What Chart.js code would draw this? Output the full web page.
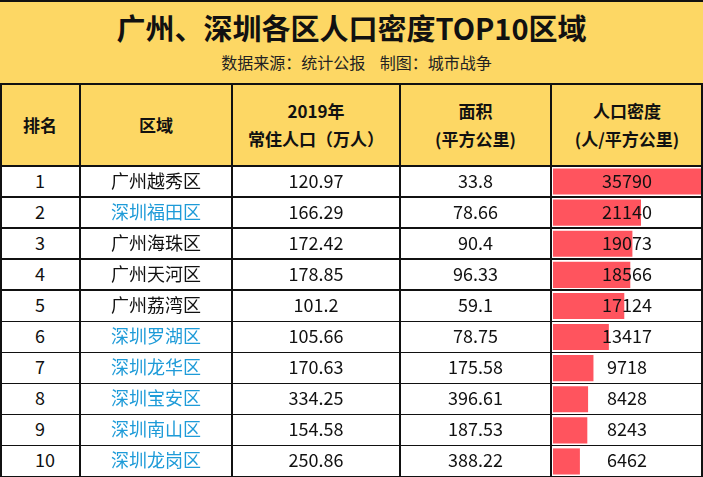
<!DOCTYPE html>
<html><head><meta charset="utf-8">
<script src="https://cdn.jsdelivr.net/npm/chart.js"></script>
<style>
body{margin:0;width:703px;height:477px;overflow:hidden;background:#fff;font-family:"Noto Sans CJK SC","Noto Sans",sans-serif;}
.c{position:absolute;display:flex;align-items:center;justify-content:center;text-align:center;box-sizing:border-box;}
#wrap{position:absolute;left:0;top:0;width:703px;height:477px;}
.ln{position:absolute;background:#111;}
</style></head><body>
<div id="wrap"></div>
<div style="position:absolute;left:552px;top:166px;width:150px;height:311px;"><canvas id="ch"></canvas></div>
<div id="over" style="position:absolute;left:0;top:0;"></div>
<script>
const ranks=["1","2","3","4","5","6","7","8","9","10"];
const districts=["广州越秀区","深圳福田区","广州海珠区","广州天河区","广州荔湾区","深圳罗湖区","深圳龙华区","深圳宝安区","深圳南山区","深圳龙岗区"];
const population=["120.97","166.29","172.42","178.85","101.2","105.66","170.63","334.25","154.58","250.86"];
const area=["33.8","78.66","90.4","96.33","59.1","78.75","175.58","396.61","187.53","388.22"];
const density=[35790,21140,19073,18566,17124,13417,9718,8428,8243,6462];
const headers=["排名","区域","2019年<br>常住人口（万人）","面积<br>(平方公里)","人口密度<br>(人/平方公里)"];

const cols=[0,80,232,400,551,703];
const rowTop=166,rowH=31.1;
const wrap=document.getElementById('wrap'),over=document.getElementById('over');
function cell(parent,x,y,w,h,html,style){const d=document.createElement('div');d.className='c';d.style.cssText+=`left:${x}px;top:${y}px;width:${w}px;height:${h}px;`+(style||'');d.innerHTML=html;parent.appendChild(d);}
cell(wrap,0,0,703,166,'','background:#FDD764;');
cell(wrap,0,2,703,50,'广州、深圳各区人口密度TOP10区域','font-size:29px;font-weight:bold;color:#111;');
cell(wrap,0,48,703,28,'数据来源：统计公报&nbsp;&nbsp;&nbsp;&nbsp;制图：城市战争','font-size:16px;color:#222;padding-left:10px;');
for(let i=0;i<5;i++)cell(wrap,cols[i],84,cols[i+1]-cols[i],81,headers[i],'font-size:17px;font-weight:bold;color:#111;line-height:28px;');
for(let r=0;r<10;r++){
 const y=rowTop+r*rowH;
 const vals=[ranks[r],districts[r],population[r],area[r],String(density[r])];
 for(let i=0;i<5;i++){
  const blue=(i===1&&districts[r].startsWith('深圳'));
  cell(over,cols[i],y-2,cols[i+1]-cols[i],rowH,vals[i],'font-size:18px;color:'+(blue?'#1E9BD8':'#111')+';'+(i===0?'justify-content:flex-start;padding-left:35px;':''));
 }
}
function ln(x,y,w,h){const d=document.createElement('div');d.className='ln';d.style.cssText=`left:${x}px;top:${y}px;width:${w}px;height:${h}px;`;over.appendChild(d);}
ln(0,83,703,2);ln(0,165,703,1.5);
for(let r=1;r<=10;r++)ln(0,rowTop+r*rowH-1,703,1.5);
ln(0,0,703,1.5);
cols.forEach((x,i)=>ln(i===5?701:Math.max(0,x-1),83,2,394));

new Chart(document.getElementById('ch'),{type:'bar',
 data:{labels:districts,datasets:[{data:density,backgroundColor:'#FF545E',borderWidth:0,barPercentage:0.84,categoryPercentage:1}]},
 options:{indexAxis:'y',animation:false,responsive:true,maintainAspectRatio:false,
  layout:{padding:{left:1,right:0,top:0,bottom:0}},
  plugins:{legend:{display:false},tooltip:{enabled:false}},
  scales:{x:{display:false,min:0,max:35790},y:{display:false}}}});
</script></body></html>
